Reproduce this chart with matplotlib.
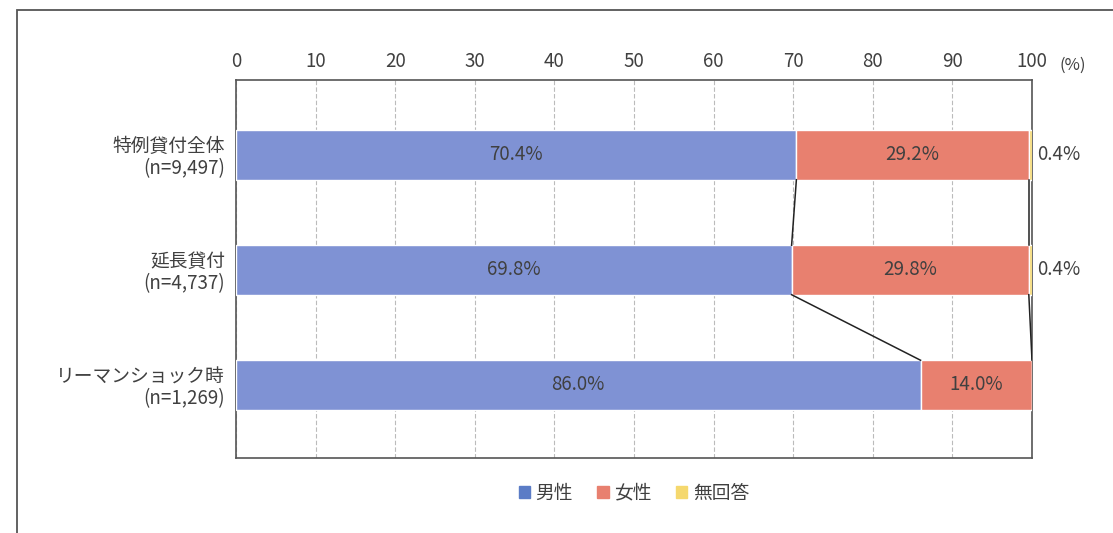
import matplotlib
matplotlib.use("Agg")
import matplotlib.pyplot as plt
from matplotlib.patches import Rectangle
import numpy as np

plt.rcParams['font.family'] = ['Noto Sans CJK JP', 'DejaVu Sans']

categories = ['特例貸付全体\n(n=9,497)', '延長貸付\n(n=4,737)', 'リーマンショック時\n(n=1,269)']
series = ['男性', '女性', '無回答']
male = [70.4, 69.8, 86.0]
female = [29.2, 29.8, 14.0]
no_answer = [0.4, 0.4, 0.0]
ticks = [0, 10, 20, 30, 40, 50, 60, 70, 80, 90, 100]

colors = ['#7f92d4', '#e8806f', '#f5d86e']
legend_colors = ['#5b7cc6', '#e8806f', '#f5d86e']
text_col = '#404040'

fig = plt.figure(figsize=(11.13, 5.33), dpi=100)
W, H = 1113, 533
ax = fig.add_axes([236 / W, 1 - 458 / H, (1032 - 236) / W, (458 - 80) / H])

# outer frame
fig.patches.append(Rectangle((17 / W, -0.05), 1.2, 1 - 10 / H + 0.05,
                             transform=fig.transFigure, fill=False,
                             edgecolor='#555555', linewidth=1.3))

y = np.arange(len(categories))
h = 0.43
data = [male, female, no_answer]
left = np.zeros(len(categories))
for vals, c in zip(data, colors):
    ax.barh(y, vals, left=left, height=h, color=c, edgecolor='white',
            linewidth=1.0, zorder=3)
    left += np.array(vals)

# series lines between bars
cum = np.cumsum(np.array(data), axis=0)
for row in cum[:2]:
    for i in range(len(categories) - 1):
        ax.plot([row[i], row[i + 1]], [y[i] + h / 2, y[i + 1] - h / 2],
                color='#222222', linewidth=1.1, zorder=4)

# value labels
for i in range(len(categories)):
    ax.text(male[i] / 2, y[i], f'{male[i]:.1f}%', ha='center', va='center',
            fontsize=13.5, color=text_col, zorder=5)
    ax.text(male[i] + female[i] / 2, y[i], f'{female[i]:.1f}%', ha='center',
            va='center', fontsize=13.5, color=text_col, zorder=5)
    if no_answer[i] > 0:
        ax.text(100.6, y[i], f'{no_answer[i]:.1f}%', ha='left', va='center',
                fontsize=13.5, color=text_col, clip_on=False)

ax.set_xlim(0, 100)
ax.set_ylim(len(categories) - 1 + 0.635, -0.652)
ax.set_xticks(ticks)
ax.xaxis.tick_top()
ax.tick_params(axis='x', length=0, pad=6, labelsize=13.5, labelcolor=text_col)
ax.set_yticks(y)
ax.set_yticklabels(categories, fontsize=13.5, color=text_col, ha='right',
                   linespacing=1.05)
ax.tick_params(axis='y', length=0, pad=8)
ax.grid(axis='x', color='#bbbbbb', linestyle=(0, (4, 2)), linewidth=0.8, zorder=0)
for s in ax.spines.values():
    s.set_color('#555555')
    s.set_linewidth(1.2)
ax.text(1.035, 1.0 + 6 / 378, '(%)', transform=ax.transAxes, va='bottom',
        ha='left', fontsize=12, color=text_col)

handles = [Rectangle((0, 0), 1, 1, color=c) for c in legend_colors]
fig.legend(handles, series, loc='center', bbox_to_anchor=(634 / W, 1 - 493 / H),
           ncol=3, frameon=False, fontsize=13.5, handlelength=0.6,
           handleheight=0.6, handletextpad=0.3, columnspacing=1.3,
           labelcolor=text_col)

fig.savefig('out.png', dpi=100)
